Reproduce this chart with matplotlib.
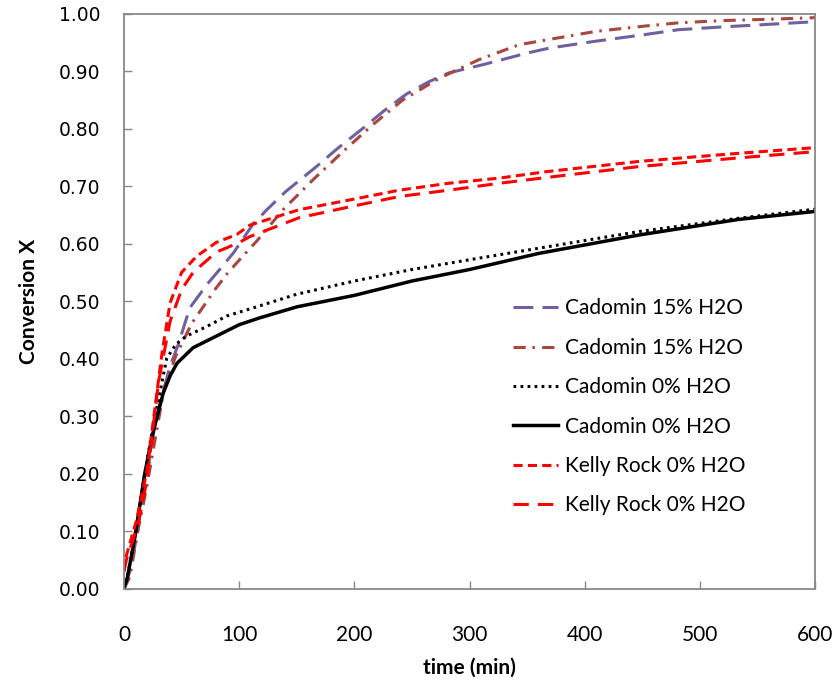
import matplotlib
matplotlib.use('Agg')
import matplotlib.pyplot as plt

# conversion curves, time in min
t_cad15a = [0, 5, 10, 14, 20, 28, 35, 40, 47, 57, 72, 83, 95, 112, 124, 140, 167, 185, 207, 225,
            245, 265, 282, 311, 351, 369, 409, 450, 481, 520, 556, 600]
x_cad15a = [0, 0.03, 0.08, 0.13, 0.20, 0.30, 0.35, 0.387, 0.424, 0.488, 0.529, 0.555, 0.584, 0.634,
            0.659, 0.69, 0.734, 0.765, 0.80, 0.83, 0.86, 0.882, 0.897, 0.911, 0.932, 0.94, 0.952,
            0.963, 0.972, 0.977, 0.981, 0.986]

t_cad15b = [0, 5, 12, 20, 27, 35, 45, 59, 69, 80, 90, 103, 115, 138, 164, 190, 216, 242, 274, 308,
            343, 360, 409, 450, 481, 520, 556, 600]
x_cad15b = [0, 0.02, 0.10, 0.18, 0.26, 0.35, 0.405, 0.462, 0.491, 0.523, 0.549, 0.578, 0.604, 0.659,
            0.711, 0.76, 0.807, 0.85, 0.888, 0.92, 0.946, 0.952, 0.969, 0.978, 0.984, 0.988, 0.99, 0.993]

t_cad0a = [0, 3, 10, 18, 25, 32, 37, 45, 54, 72, 89, 115, 150, 200, 250, 300, 360, 447, 533, 600]
x_cad0a = [0, 0.02, 0.10, 0.20, 0.28, 0.35, 0.40, 0.425, 0.439, 0.456, 0.474, 0.49, 0.512, 0.535,
           0.555, 0.572, 0.592, 0.621, 0.644, 0.66]

t_cad0b = [0, 3, 9.5, 18, 25, 34, 40, 46, 60, 83, 100, 118, 150, 200, 250, 300, 360, 447, 533, 600]
x_cad0b = [0, 0.02, 0.09, 0.20, 0.27, 0.34, 0.37, 0.392, 0.419, 0.442, 0.459, 0.471, 0.49, 0.51,
           0.535, 0.555, 0.583, 0.615, 0.642, 0.656]

t_kellya = [0, 1, 11, 20, 27, 33, 40, 50, 63, 80, 98, 109, 152, 196, 239, 282, 326, 366, 447, 533, 600]
x_kellya = [0.03, 0.05, 0.12, 0.206, 0.317, 0.41, 0.497, 0.55, 0.578, 0.602, 0.616, 0.632, 0.659,
            0.676, 0.693, 0.705, 0.714, 0.725, 0.743, 0.757, 0.767]

t_kellyb = [0, 2, 12, 20, 30, 40, 50, 60, 80, 100, 109, 152, 196, 239, 282, 326, 375, 447, 533, 600]
x_kellyb = [0.03, 0.05, 0.11, 0.19, 0.36, 0.465, 0.52, 0.55, 0.585, 0.602, 0.612, 0.645, 0.664,
            0.682, 0.693, 0.705, 0.717, 0.734, 0.749, 0.76]

labels = ['Cadomin 15% H2O', 'Cadomin 15% H2O', 'Cadomin 0% H2O', 'Cadomin 0% H2O',
          'Kelly Rock 0% H2O', 'Kelly Rock 0% H2O']

xticks = [0, 100, 200, 300, 400, 500, 600]
yticks = [0.0, 0.1, 0.2, 0.3, 0.4, 0.5, 0.6, 0.7, 0.8, 0.9, 1.0]

narrow = ['Lato', 'DejaVu Sans']

fig = plt.figure(figsize=(8.38, 6.82), dpi=100)
ax = fig.add_axes([0.148, 0.137, 0.825, 0.843])

lw = 2.2
ax.plot(t_cad15a, x_cad15a, color='#7060a0', lw=lw, ls=(0, (6.5, 3)), label=labels[0])
ax.plot(t_cad15b, x_cad15b, color='#a8463f', lw=lw, ls=(0, (4, 2.2, 0.8, 2.4)), label=labels[1])
ax.plot(t_cad0a, x_cad0a, color='black', lw=lw, ls=(0, (0.9, 1.4)), label=labels[2])
ax.plot(t_cad0b, x_cad0b, color='black', lw=lw + 0.3, ls='-', label=labels[3])
ax.plot(t_kellya, x_kellya, color='#ff0000', lw=lw, ls=(0, (3, 1.7)), label=labels[4])
ax.plot(t_kellyb, x_kellyb, color='#ff0000', lw=lw, ls=(0, (5, 3)), label=labels[5])

ax.set_xlim(0, 600)
ax.set_ylim(0, 1.0)
ax.set_xticks(xticks)
ax.set_yticks(yticks)
ax.set_yticklabels(['%.2f' % v for v in yticks], family='DejaVu Sans', fontsize=13.5)
ax.set_xticklabels([str(v) for v in xticks], family=narrow, fontsize=15)
ax.tick_params(axis='both', direction='in', length=6, width=1, color='#888888')
ax.tick_params(axis='x', pad=26)
ax.tick_params(axis='y', pad=17)
for s in ax.spines.values():
    s.set_color('#888888')
    s.set_linewidth(1.3)

ax.set_xlabel('time (min)', family=narrow, fontsize=15, fontweight='bold', labelpad=9)
ax.set_ylabel('Conversion X', family=narrow, fontsize=15, fontweight='bold', labelpad=14)

leg = ax.legend(loc='center left', bbox_to_anchor=(0.562, 0.316), frameon=False,
                prop={'family': narrow, 'size': 15}, handlelength=2.2, handletextpad=0.3,
                labelspacing=0.93, borderpad=0, borderaxespad=0)

fig.savefig('out.png', dpi=100)
